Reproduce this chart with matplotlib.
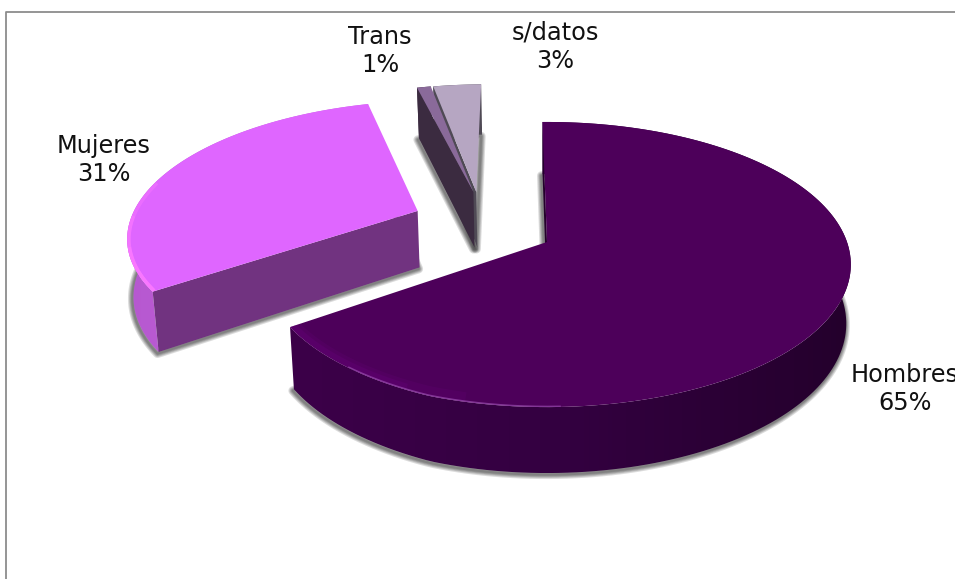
import numpy as np
import matplotlib
matplotlib.use("Agg")
import matplotlib.pyplot as plt
from matplotlib.colors import LinearSegmentedColormap
from matplotlib.patches import Polygon

categories = ["Hombres", "Mujeres", "Trans", "s/datos"]
shares = [65.4, 30.6, 0.9, 3.1]

# chart look, in pixels of the 955x579 picture
top_colors = ["#4d005a", "#df66ff", "#8a6a9a", "#b6a6c2"]
edge_colors = ["#24002c", "#713380", "#3b2b40", "#4f4a55"]
outer_colors = [["#3c0049", "#330040", "#24002c"], ["#b658d0", "#cb6ae2"],
                ["#3b2b40", "#3b2b40"], ["#4f4a55", "#4f4a55"]]
explode = [(0, 0), (-0.447, 0.232), (-0.26, 0.382), (-0.25, 0.382)]
rim_scale = [1, 0.98, 1, 1]
corner_cut = [0.04, 0, 0, 0]  # the Hombres corner is rounded off
label_pos = [(905, 389), (104, 160), (380, 51), (555, 47)]

CX, CY = 547, 242
A, B = 300, 139
A_LOW, B_LOW, DEPTH = 295.5, 145.7, 58
PERSP = 0.158
START = -1.0


def project(u, v, low=False):
    s = 1 + PERSP * v
    if low:
        return CX + A_LOW * u / s, CY + DEPTH - B_LOW * v / s
    return CX + A * u / s, CY - B * v / s


def arc(i, t0, t1, low=False):
    end = wedges[i][1]
    deg = np.linspace(t0, t1, 160)
    r = rim_scale[i] - corner_cut[i] * np.clip((deg - (end - 35)) / 35, 0, 1)
    t = np.radians(deg)
    return np.column_stack(project(r * np.sin(t) + explode[i][0], r * np.cos(t) + explode[i][1], low))


def gradient(ax, pts, colors, zorder):
    cmap = LinearSegmentedColormap.from_list("wall", colors)
    x0, x1 = pts[:, 0].min(), pts[:, 0].max()
    y0, y1 = pts[:, 1].min(), pts[:, 1].max()
    im = ax.imshow(np.linspace(0, 1, 256)[None, :], cmap=cmap, aspect="auto",
                   extent=(x0, x1, y1, y0), zorder=zorder)
    im.set_clip_path(Polygon(pts, transform=ax.transData))


fig = plt.figure(figsize=(9.55, 5.79), dpi=100)
ax = fig.add_axes([0, 0, 1, 1])

bounds = START + np.concatenate([[0], np.cumsum(shares)]) * 3.6
wedges = list(zip(bounds[:-1], bounds[1:]))

# soft floor shadows
for i, (t0, t1) in enumerate(wedges):
    apex = np.array(project(explode[i][0], explode[i][1], True))
    low = np.vstack([apex, arc(i, t0, t1, True)]) + [-1, 1.5]
    for lw in [6.5, 5, 3.8, 2.6, 1.6]:
        ax.add_patch(Polygon(low, closed=True, fill=False, edgecolor="#303030", lw=lw,
                             alpha=0.17, joinstyle="round", zorder=1))

# back to front: s/datos, Trans, Mujeres, Hombres
tops = {}
for z, i in enumerate([3, 2, 1, 0]):
    base = 2 + z * 5
    t0, t1 = wedges[i]
    apex_top = np.array(project(explode[i][0], explode[i][1]))
    apex_low = np.array(project(explode[i][0], explode[i][1], True))
    rim_top = arc(i, t0, t1)
    rim_low = arc(i, t0, t1, True)

    gradient(ax, np.vstack([rim_top, rim_low[::-1]]), outer_colors[i], base)
    ax.add_patch(Polygon([apex_top, rim_top[0], rim_low[0], apex_low], closed=True,
                         facecolor=edge_colors[i], edgecolor="none", zorder=base + 1))
    tops[i] = Polygon(np.vstack([apex_top, rim_top]), closed=True,
                      facecolor=top_colors[i], edgecolor="none", zorder=base + 2)
    ax.add_patch(tops[i])

# rim highlights, kept inside the slice tops
t0, t1 = wedges[1]
for span, alpha in [(48, 0.35), (32, 0.45), (18, 0.5)]:
    rim = arc(1, t0 + 1, t0 + span)
    line, = ax.plot(rim[:, 0], rim[:, 1], color="#ff7cff", lw=5, alpha=alpha, zorder=20)
    line.set_clip_path(tops[1])
t0, t1 = wedges[0]
for start, width, alpha in [(195, 14, 0.18), (205, 9, 0.25)]:
    rim = arc(0, start, t1)
    line, = ax.plot(rim[:, 0], rim[:, 1], color="#6a0080", lw=width, alpha=alpha, zorder=21)
    line.set_clip_path(tops[0])
rim = arc(0, 178, 216)
line, = ax.plot(rim[:, 0], rim[:, 1], color="#9a4cb0", lw=2, alpha=0.7, zorder=22)
line.set_clip_path(tops[0])

# chart area border, runs off the picture on the right and bottom
ax.plot([5.5, 5.5, 960], [590, 12, 12], color="#8c8c8c", lw=1.3, zorder=0)

for name, share, (x, y) in zip(categories, shares, label_pos):
    ax.text(x, y, f"{name}\n{share:.0f}%", ha="center", va="center", fontsize=17.3,
            color="#111111", linespacing=1.25, family=["DejaVu Sans"], zorder=30)

ax.set_xlim(0, 955)
ax.set_ylim(579, 0)
ax.axis("off")
fig.savefig("out.png", dpi=100, facecolor="white")
